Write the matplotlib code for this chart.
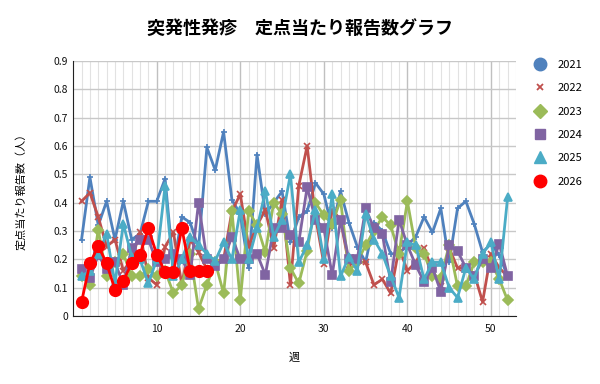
import matplotlib
matplotlib.use("Agg")
import matplotlib.pyplot as plt
from matplotlib.lines import Line2D
from matplotlib.ticker import MultipleLocator, FuncFormatter, FixedLocator

plt.rcParams['font.family'] = ['Noto Sans CJK JP', 'DejaVu Sans']

weeks = list(range(1, 53))

y2021 = [0.27, 0.49, 0.32, 0.405, 0.27, 0.405, 0.27, 0.29, 0.405, 0.405,
         0.485, 0.17, 0.35, 0.33, 0.24, 0.595, 0.515, 0.65, 0.41, 0.36,
         0.17, 0.57, 0.36, 0.40, 0.44, 0.26, 0.35, 0.37, 0.47, 0.43,
         0.31, 0.44, 0.33, 0.245, 0.19, 0.33, 0.30, 0.22, 0.22, 0.25,
         0.28, 0.35, 0.295, 0.38, 0.19, 0.38, 0.405, 0.325, 0.225, 0.255,
         0.215, 0.14]
y2022 = [0.405, 0.435, 0.35, 0.245, 0.27, 0.16, 0.2, 0.295, 0.135, 0.11,
         0.245, 0.295, 0.11, 0.27, 0.225, 0.165, 0.19, 0.2, 0.37, 0.43,
         0.245, 0.32, 0.375, 0.24, 0.41, 0.11, 0.46, 0.6, 0.35, 0.185,
         0.375, 0.34, 0.18, 0.19, 0.19, 0.11, 0.13, 0.08, 0.24, 0.16,
         0.19, 0.24, 0.16, 0.105, 0.24, 0.17, 0.17, 0.15, 0.05, 0.22,
         0.17, 0.14]
y2023 = [0.14, 0.11, 0.305, 0.14, 0.19, 0.22, 0.14, 0.14, 0.165, 0.14,
         0.16, 0.08, 0.11, 0.22, 0.025, 0.11, 0.19, 0.08, 0.37, 0.055,
         0.37, 0.32, 0.225, 0.40, 0.36, 0.17, 0.115, 0.23, 0.40, 0.355,
         0.325, 0.41, 0.16, 0.19, 0.25, 0.30, 0.35, 0.32, 0.22, 0.405,
         0.24, 0.22, 0.14, 0.135, 0.25, 0.105, 0.105, 0.19, 0.19, 0.19,
         0.13, 0.055]
y2024 = [0.165, 0.135, 0.215, 0.165, 0.19, 0.11, 0.24, 0.27, 0.27, 0.19,
         0.2, 0.22, 0.2, 0.145, 0.40, 0.20, 0.175, 0.20, 0.28, 0.20,
         0.20, 0.22, 0.145, 0.31, 0.31, 0.285, 0.26, 0.455, 0.34, 0.31,
         0.145, 0.34, 0.20, 0.20, 0.38, 0.31, 0.29, 0.12, 0.34, 0.25,
         0.18, 0.12, 0.17, 0.085, 0.25, 0.23, 0.17, 0.14, 0.20, 0.17,
         0.255, 0.14]
y2025 = [0.14, 0.16, 0.22, 0.29, 0.115, 0.325, 0.21, 0.20, 0.115, 0.20,
         0.46, 0.14, 0.20, 0.28, 0.25, 0.22, 0.195, 0.26, 0.20, 0.375,
         0.20, 0.31, 0.44, 0.28, 0.34, 0.50, 0.19, 0.25, 0.375, 0.20,
         0.43, 0.14, 0.21, 0.16, 0.36, 0.27, 0.22, 0.14, 0.065, 0.26,
         0.25, 0.13, 0.19, 0.19, 0.10, 0.065, 0.17, 0.13, 0.22, 0.26,
         0.13, 0.42]
y2026 = [0.05, 0.186, 0.247, 0.186, 0.093, 0.124, 0.186, 0.217, 0.31, 0.217,
         0.155, 0.155, 0.31, 0.16, 0.16, 0.16]

labels = ['2021', '2022', '2023', '2024', '2025', '2026']
colors = ['#4F81BD', '#C0504D', '#9BBB59', '#8064A2', '#4BACC6', '#FF0000']
x_ticks = [10, 20, 30, 40, 50]

fig = plt.figure(figsize=(6, 3.84), dpi=100)
ax = fig.add_axes([0.122, 0.177, 0.738, 0.664])

series = [
    (y2021, '+', 5),
    (y2022, 'x', 4),
    (y2023, 'D', 5),
    (y2024, 's', 5.5),
    (y2025, '^', 6),
]
for (ys, mk, ms), c in zip(series, colors[:5]):
    ax.plot(weeks[:len(ys)], ys, color=c, lw=2, marker=mk, ms=ms,
            mew=1.2, zorder=3)
ax.plot(weeks[:len(y2026)], y2026, color=colors[5], lw=2, marker='o',
        ms=8.5, zorder=5)

ax.set_xlim(0, 53)
ax.set_ylim(0, 0.9)
ax.yaxis.set_major_locator(MultipleLocator(0.1))
ax.yaxis.set_major_formatter(FuncFormatter(lambda v, p: '0' if abs(v) < 1e-9 else f'{v:.1f}'))
ax.xaxis.set_major_locator(FixedLocator(x_ticks))
ax.xaxis.set_minor_locator(MultipleLocator(1))
ax.grid(which='major', axis='y', color='#c8c8c8', lw=1)
ax.grid(which='major', axis='x', color='#c0c0c0', lw=1)
ax.grid(which='minor', axis='x', color='#e2e2e2', lw=0.8)
ax.set_axisbelow(True)
for s in ['top', 'right']:
    ax.spines[s].set_visible(False)
ax.spines['left'].set_color('#222222')
ax.spines['bottom'].set_color('#222222')
ax.tick_params(which='both', length=0, labelsize=7.5, colors='#111111')
ax.tick_params(axis='x', pad=6)

ax.set_xlabel('週', fontsize=8, labelpad=13)
ax.set_ylabel('定点当たり報告数（人）', fontsize=8, labelpad=20)
fig.suptitle('突発性発疹　定点当たり報告数グラフ', fontsize=13, fontweight='bold',
             x=0.5, y=0.95)

handles = [
    Line2D([], [], ls='none', marker='o', ms=9, color=colors[0]),
    Line2D([], [], ls='none', marker='x', ms=5, mew=1.3, color=colors[1]),
    Line2D([], [], ls='none', marker='D', ms=7, color=colors[2]),
    Line2D([], [], ls='none', marker='s', ms=7, color=colors[3]),
    Line2D([], [], ls='none', marker='^', ms=8, color=colors[4]),
    Line2D([], [], ls='none', marker='o', ms=9, color=colors[5]),
]
fig.legend(handles, labels, loc='upper left', bbox_to_anchor=(0.865, 0.87),
           frameon=False, fontsize=8, labelspacing=1.2, handletextpad=0.6)

fig.savefig('out.png', dpi=100)
